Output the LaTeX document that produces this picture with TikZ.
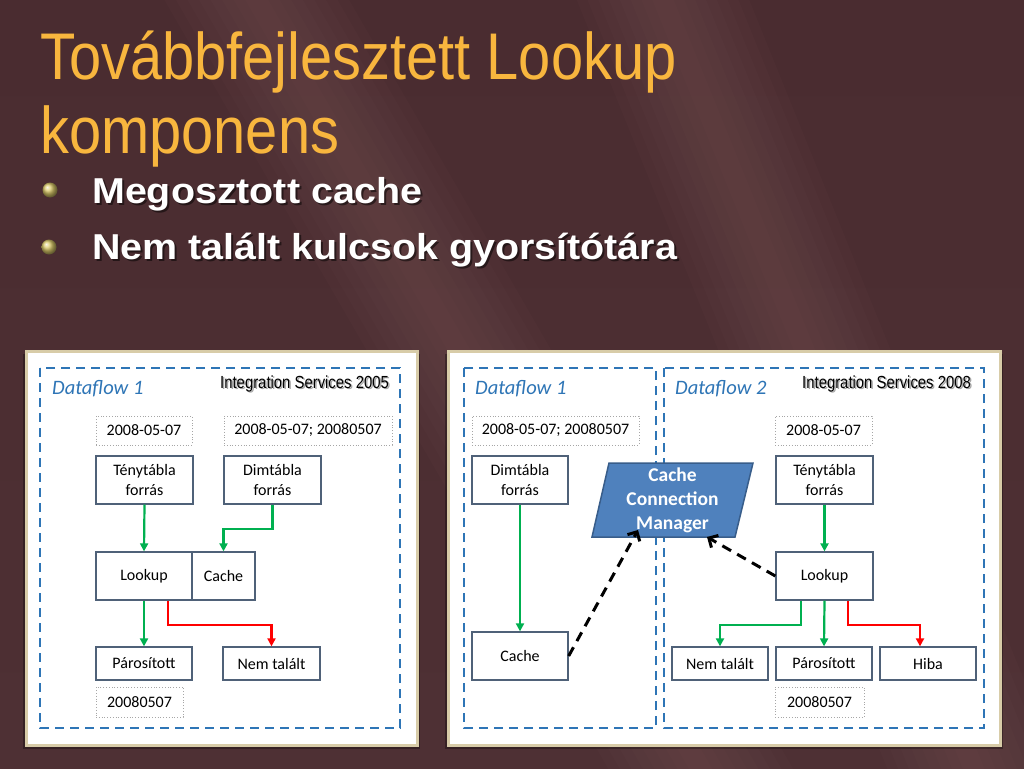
\documentclass[tikz,border=0pt]{standalone}
\usepackage{fontspec}
\setmainfont{Carlito}
\newfontfamily\titlefont[FakeStretch=0.876]{Liberation Sans}
\newfontfamily\bulletfont[FakeStretch=1.095]{Liberation Sans Bold}
\newfontfamily\isfont[FakeStretch=0.85]{Liberation Sans}
\usetikzlibrary{arrows.meta}
\definecolor{bgtop}{HTML}{4A2C30}
\definecolor{bgmid}{HTML}{5E3B3E}
\definecolor{bgbot}{HTML}{4E3034}
\definecolor{streakc}{HTML}{9A6A6B}
\definecolor{titlec}{HTML}{F8B63E}
\definecolor{bulletc}{HTML}{DCCB6A}
\definecolor{panelborder}{HTML}{D8CCA8}
\definecolor{dfblue}{HTML}{2E75B6}
\definecolor{boxc}{HTML}{4F6178}
\definecolor{dotc}{HTML}{A6A6A6}
\definecolor{greenc}{HTML}{00B050}
\definecolor{redc}{HTML}{FF0000}
\definecolor{ccmfill}{HTML}{4F81BD}
\definecolor{ccmdraw}{HTML}{385D8A}
\begin{document}
\begin{tikzpicture}[x=1pt,y=-1pt,
  streak/.style={fill=streakc, opacity=0.04},
  panel/.style={draw=panelborder, line width=3pt, fill=white},
  panelshadow/.style={fill=black, opacity=0.3},
  dfframe/.style={draw=dfblue, line width=2.5pt, dash pattern=on 9pt off 6pt},
  box/.style={draw=boxc, line width=1.3pt, fill=white, inner sep=0pt, align=center,
    minimum width=97pt, minimum height=48pt, font=\fontsize{16}{20}\selectfont},
  lowbox/.style={box, minimum height=33pt},
  dotbox/.style={draw=dotc, dotted, line width=0.8pt, fill=white, inner sep=0pt,
    minimum height=29pt, font=\fontsize{16}{20}\selectfont},
  garrow/.style={draw=greenc, line width=2.2pt, -{Triangle[length=8pt,width=8pt]}},
  rarrow/.style={draw=redc, line width=2.2pt, -{Triangle[length=8pt,width=8pt]}},
  darrow/.style={draw=black, line width=3pt, dash pattern=on 10pt off 7pt,
    -{Straight Barb[length=7pt,width=14pt,line width=3pt]}},
  dflabel/.style={anchor=base west, inner sep=0pt, text=dfblue, font=\itshape\fontsize{20.5}{24}\selectfont},
  islabel/.style={anchor=base west, inner sep=0pt, font=\isfont\fontsize{17.5}{20}\selectfont},
  titletext/.style={anchor=base west, inner sep=0pt, font=\titlefont\fontsize{66}{70}\selectfont},
  bullettext/.style={anchor=base west, inner sep=0pt, font=\bulletfont\fontsize{36}{40}\selectfont},
  bulletdot/.style={circle, inner sep=0pt, minimum size=15pt, ball color=bulletc}
]
\useasboundingbox (0,0) rectangle (1024,768);
\shade[top color=bgtop, middle color=bgmid, bottom color=bgbot] (0,0) rectangle (1024,768);
% soft diagonal light streaks of the background
\foreach \w in {10,20,...,80} {
  \fill[streak, rotate around={22:(760,240)}] (760-\w,-400) rectangle (760+\w,900);
  \fill[streak, rotate around={30:(430,300)}] (430-\w,-400) rectangle (430+\w,900);
}

% title
\node[titletext, text=titlec] (t1) at (40,79) {Továbbfejlesztett Lookup};
\node[titletext, text=titlec] (t2) at (40,153) {komponens};

% bullets
\node[bulletdot] (b1) at (50,190) {};
\node[bulletdot] (b2) at (49,247) {};
\node[bullettext, text=black, opacity=0.5] (l1s) at (94,205) {Megosztott cache};
\node[bullettext, text=white] (l1) at (92,203) {Megosztott cache};
\node[bullettext, text=black, opacity=0.5] (l2s) at (94,261) {Nem talált kulcsok gyorsítótára};
\node[bullettext, text=white] (l2) at (92,259) {Nem talált kulcsok gyorsítótára};

% panels
\fill[panelshadow] (23,354) rectangle (420,749);
\fill[panelshadow] (445,354) rectangle (1003,749);
\draw[panel] (26,351) rectangle (417,745);
\draw[panel] (448,351) rectangle (1000,745);

% ===== left panel (SSIS 2005)
\draw[dfframe] (40,368) rectangle (400,728);
\node[dflabel] (lf1) at (52,394) {Dataflow 1};
\node[islabel, text=black!35] (is1s) at (221.5,389.5) {Integration Services 2005};
\node[islabel] (is1) at (220,388) {Integration Services 2005};

\node[dotbox, minimum width=96pt] (ld1) at (144,430.5) {2008-05-07};
\node[dotbox, minimum width=168pt] (ld2) at (308,430.5) {2008-05-07; 20080507};
\node[box] (ltf) at (144.5,480) {Ténytábla\\forrás};
\node[box] (ldf) at (272.5,480) {Dimtábla\\forrás};
\node[box, minimum width=96pt] (llk) at (144,576) {Lookup};
\node[box, minimum width=63pt] (lca) at (223.5,576) {Cache};
\node[lowbox, minimum width=96pt] (lpa) at (144,663.5) {Párosított};
\node[lowbox] (lnt) at (271.5,663.5) {Nem talált};
\node[dotbox, minimum width=87pt, minimum height=30pt] (ld3) at (139.5,702) {20080507};

\draw[garrow] (ltf.south) -- (llk.north);
\draw[garrow] (ldf.south) -- ++(0,24) -| (lca.north);
\draw[garrow] (llk.south) -- (lpa.north);
\draw[rarrow] ([xshift=24pt]llk.south) -- ++(0,24) -| (lnt.north);

% ===== right panel (SSIS 2008)
\draw[dfframe] (464,368) rectangle (656,728);
\draw[dfframe] (664,368) rectangle (984,728);
\node[dflabel] (rf1) at (475,394) {Dataflow 1};
\node[dflabel] (rf2) at (675,394) {Dataflow 2};
\node[islabel, text=black!35] (is2s) at (803.5,389.5) {Integration Services 2008};
\node[islabel] (is2) at (802,388) {Integration Services 2008};

\node[dotbox, minimum width=167pt] (rd2) at (555.5,430.5) {2008-05-07; 20080507};
\node[box, minimum width=96pt] (rdf) at (520,480) {Dimtábla\\forrás};
\node[box, minimum width=96pt] (rca) at (520,656) {Cache};

\draw[draw=ccmdraw, line width=1.5pt, fill=ccmfill] (609,463) -- (753,463) -- (735,537) -- (592,537) -- cycle;
\node[align=center, text=white, inner sep=0pt, font=\bfseries\fontsize{19.5}{24}\selectfont] (ccm) at (672.5,500) {Cache\\Connection\\Manager};
\coordinate (ccmA) at (638,530);
\coordinate (ccmB) at (707,537);

\node[dotbox, minimum width=97pt] (rd1) at (823.5,430.5) {2008-05-07};
\node[box] (rtf) at (824.5,480) {Ténytábla\\forrás};
\node[box] (rlk) at (824.5,576) {Lookup};
\node[lowbox, minimum width=96pt] (rnt) at (720,663.5) {Nem talált};
\node[lowbox, minimum width=96pt] (rpa) at (824,663.5) {Párosított};
\node[lowbox, minimum width=96pt] (rhi) at (928,663.5) {Hiba};
\node[dotbox, minimum width=89pt, minimum height=30pt] (rd3) at (819.5,702) {20080507};

\draw[garrow] (rdf.south) -- (rca.north);
\draw[garrow] (rtf.south) -- (rlk.north);
\draw[garrow] ([xshift=-23.5pt]rlk.south) -- ++(0,24) -| (rnt.north);
\draw[garrow] (rlk.south) -- (rpa.north);
\draw[rarrow] ([xshift=23.5pt]rlk.south) -- ++(0,24) -| ([xshift=-8pt]rhi.north);

\draw[darrow] (rca.east) -- (ccmA);
\draw[darrow] (rlk.west) -- (ccmB);
\end{tikzpicture}
\end{document}
